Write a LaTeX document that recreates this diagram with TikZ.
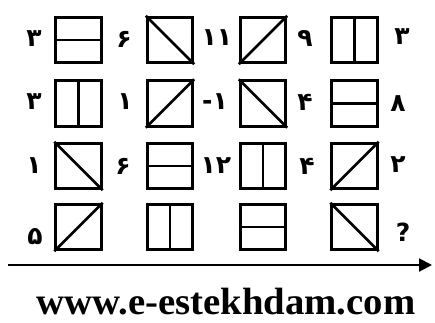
\documentclass[tikz,border=0pt]{standalone}
\usepackage{fontspec}
\setmainfont{Liberation Serif}
\newfontfamily\numfont{DejaVu Sans}
\usetikzlibrary{arrows.meta}
\tikzset{
  cell/.style={draw, line width=2.8pt, minimum size=45.5pt, inner sep=0pt},
  seg/.style={line width=2.8pt, line cap=butt},
  num/.style={font=\numfont\bfseries\fontsize{25}{25}\selectfont, inner sep=0pt},
  axis/.style={line width=2pt, -{Triangle[length=13pt,width=13pt]}}
}
\begin{document}
\begin{tikzpicture}[x=1pt,y=-1pt]
\useasboundingbox (0,0) rectangle (435,322);
% boxes
\foreach \r/\y in {1/40,2/103.5,3/166,4/227}{
  \foreach \c/\x in {1/78.5,2/170,3/263,4/354.5}{
    \node[cell] (b\r\c) at (\x,\y) {};
  }
}
% row 1
\draw[seg] (b11.west) -- (b11.east);
\draw[seg] (b12.north west) -- (b12.south east);
\draw[seg] (b13.south west) -- (b13.north east);
\draw[seg] (b14.north) -- (b14.south);
% row 2
\draw[seg] (b21.north) -- (b21.south);
\draw[seg] (b22.south west) -- (b22.north east);
\draw[seg] (b23.north west) -- (b23.south east);
\draw[seg] (b24.west) -- (b24.east);
% row 3
\draw[seg] (b31.north west) -- (b31.south east);
\draw[seg] (b32.west) -- (b32.east);
\draw[seg] (b33.north) -- (b33.south);
\draw[seg] (b34.south west) -- (b34.north east);
% row 4
\draw[seg] (b41.south west) -- (b41.north east);
\draw[seg] (b42.north) -- (b42.south);
\draw[seg] (b43.west) -- (b43.east);
\draw[seg] (b44.north west) -- (b44.south east);
% numbers
\node[num] (n10) at (34,39) {۳};
\node[num] (n11) at (124,39) {۶};
\node[num] (n12) at (217,38) {۱۱};
\node[num] (n13) at (305,38) {۹};
\node[num] (n14) at (402,37) {۳};
\node[num] (n20) at (34,102) {۳};
\node[num] (n21) at (125,102) {۱};
\node[num] (n22) at (215,102) {-۱};
\node[num] (n23) at (305,102) {۴};
\node[num] (n24) at (398,104) {۸};
\node[num] (n30) at (34,166) {۱};
\node[num] (n31) at (123,166) {۶};
\node[num] (n32) at (216,166) {۱۲};
\node[num] (n33) at (307,166) {۴};
\node[num] (n34) at (398,165) {۲};
\node[num] (n40) at (35,237) {۵};
\node[num] (n44) at (403,232) {?};
% arrow
\coordinate (as) at (8,265);
\coordinate (ae) at (432,265);
\draw[axis] (as) -- (ae);
% caption
\node[font=\bfseries\fontsize{38}{38}\selectfont, anchor=base, inner sep=0pt, xscale=1.02] (cap) at (226,314) {www.e-estekhdam.com};
\end{tikzpicture}
\end{document}
